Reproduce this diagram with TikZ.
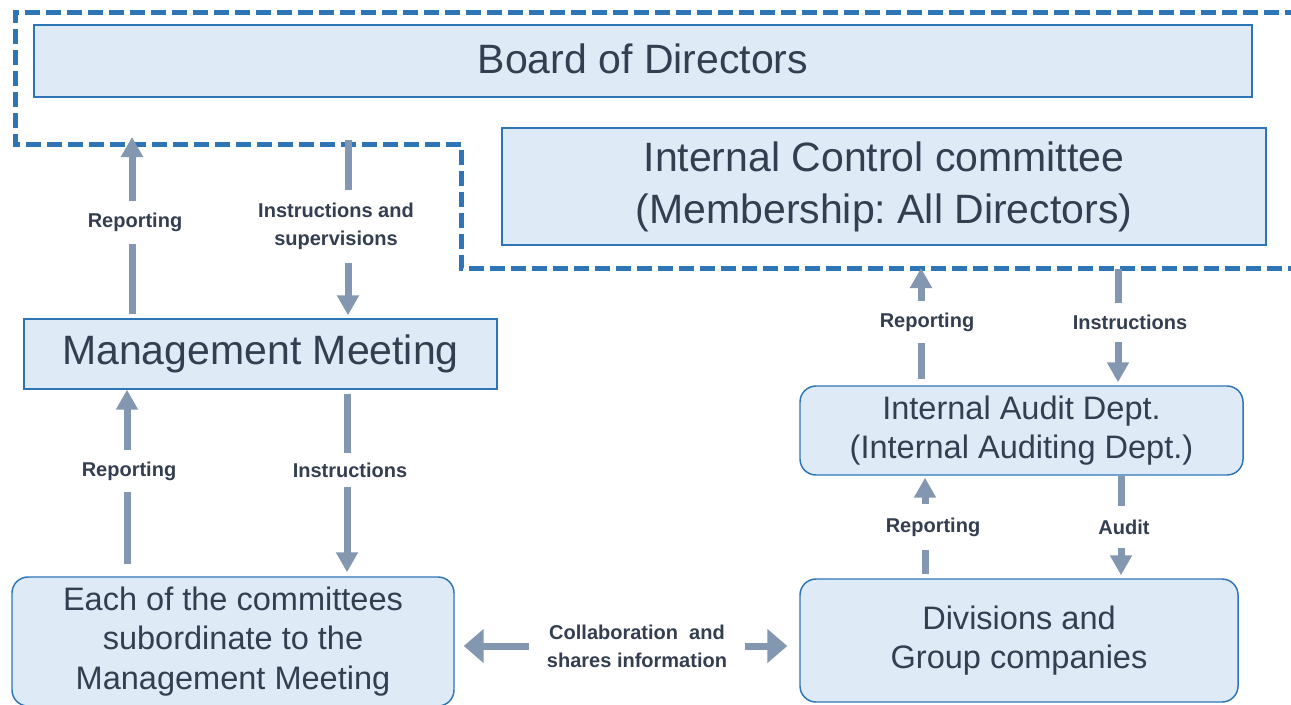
\documentclass[tikz,border=0pt]{standalone}
\usepackage{fontspec}
\setmainfont{Liberation Sans}
\usetikzlibrary{arrows.meta}
\definecolor{boxfill}{HTML}{DEEBF7}
\definecolor{boxline}{HTML}{2E75B6}
\definecolor{dashc}{HTML}{2E75B6}
\definecolor{arrc}{HTML}{8497B0}
\definecolor{txt}{HTML}{333F50}
\frenchspacing
\begin{document}
\begin{tikzpicture}[x=0.75pt,y=-0.75pt,
 box/.style={draw=boxline, line width=1.1pt, fill=boxfill, inner sep=0pt, text=txt, align=center},
 rbox/.style={box, rounded corners=12pt},
 big/.style={font=\fontsize{30.75}{39}\selectfont},
 mid/.style={font=\fontsize{24.4}{29.5}\selectfont},
 arr/.style={draw=arrc, line width=5.25pt, -{Triangle[width=15.75pt,length=15pt]}},
 harr/.style={draw=arrc, line width=5.25pt, {Triangle[width=24.75pt,length=15pt]}-{Triangle[width=24.75pt,length=15pt]}},
 lab/.style={fill=white, text=txt, font=\fontsize{15}{21}\selectfont\bfseries, align=center, inner xsep=1pt, inner ysep=9pt},
 bound/.style={draw=dashc, line width=3.75pt, dash pattern=on 11.25pt off 4.5pt}
]
\clip (0,0) rectangle (1291,704);
\fill[white] (0,0) rectangle (1291,704);
% dashed boundary
\draw[bound] (1300,12) -- (15,12) -- (15,144) -- (461,144) -- (461,268) -- (1300,268);
% boxes
\node[box, minimum width=913.5pt, minimum height=54pt] (board) at (643,61) {};
\node[text=txt, big] at (board.center) [yshift=1.5pt] {Board of Directors};
\node[box, big, minimum width=573pt, minimum height=87.75pt] (icc) at (884,186.5) {Internal Control committee\\(Membership: All Directors)};
\node[box, big, minimum width=354.75pt, minimum height=52.5pt] (mm) at (260.5,354) {Management Meeting};
\node[rbox, mid, minimum width=332.25pt, minimum height=66.75pt] (iad) at (1021.5,430.5) {Internal Audit Dept.\\(Internal Auditing Dept.)};
\node[rbox, mid, minimum width=328.5pt, minimum height=92.25pt] (div) at (1019,640.5) {Divisions and\\Group companies};
\node[rbox, mid, minimum width=331.5pt, minimum height=96.75pt] (each) at (233,641.5) {Each of the committees\\subordinate to the\\Management Meeting};
% coordinates
\coordinate (bdA) at (132,137);
\coordinate (bdB) at (348,140);
\coordinate (bdC) at (921,268);
\coordinate (bdD) at (1118,269);
\coordinate (cE) at (127,0);
\coordinate (cF) at (347,0);
\coordinate (cG) at (925,0);
\coordinate (cH) at (1121,0);
\coordinate (hy) at (0,646);
% arrows
\draw[arr, shorten <=3pt] (mm.north -| bdA) -- node[lab, pos=0.527, xshift=2.25pt]{Reporting} (bdA);
\draw[arr, shorten >=2.25pt] (bdB) -- node[lab, pos=0.486, xshift=-9pt, inner ysep=10pt]{Instructions and\\supervisions} (mm.north -| bdB);
\draw[arr, shorten <=9pt] (each.north -| cE) -- node[lab, pos=0.564, xshift=1.5pt]{Reporting} (mm.south -| cE);
\draw[arr, shorten <=3pt, shorten >=3pt] (mm.south -| cF) -- node[lab, pos=0.431, xshift=2.25pt, inner ysep=7pt]{Instructions} (each.north -| cF);
\draw[arr, shorten <=4.5pt] (iad.north -| bdC) -- node[lab, pos=0.54, xshift=4.5pt]{Reporting} (bdC);
\draw[arr, shorten >=2.25pt] (bdD) -- node[lab, pos=0.46, xshift=9pt]{Instructions} (iad.north -| bdD);
\draw[arr, shorten <=3pt, shorten >=1.5pt] (div.north -| cG) -- node[lab, pos=0.5, xshift=6pt, inner ysep=10pt]{Reporting} (iad.south -| cG);
\draw[arr, shorten >=2.25pt] (iad.south -| cH) -- node[lab, pos=0.5, xshift=2.25pt, inner ysep=10pt]{Audit} (div.north -| cH);
\draw[harr, shorten <=6.75pt, shorten >=9pt] (each.east |- hy) -- node[lab, xshift=7.5pt, inner xsep=13.5pt, inner ysep=2pt]{Collaboration~ and\\shares information} (div.west |- hy);
\end{tikzpicture}
\end{document}
